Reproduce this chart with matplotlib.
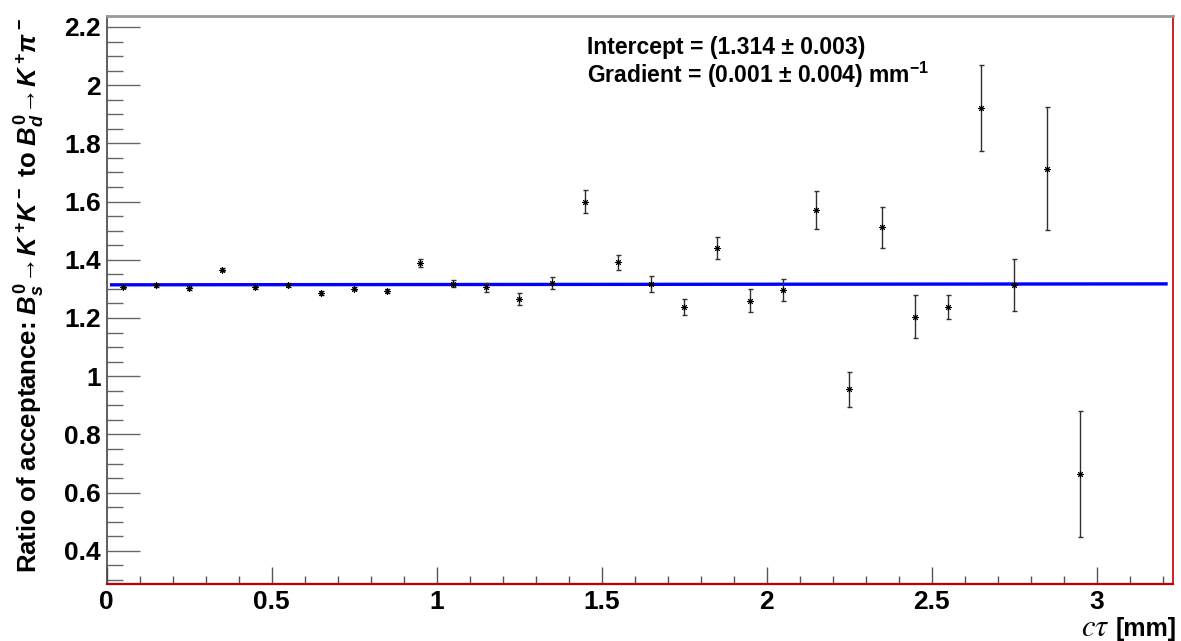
import numpy as np
import matplotlib
matplotlib.use("Agg")
import matplotlib.pyplot as plt
from matplotlib.ticker import MultipleLocator, FuncFormatter

plt.rcParams["font.family"] = ["Liberation Sans", "DejaVu Sans"]
plt.rcParams["mathtext.fontset"] = "custom"
plt.rcParams["mathtext.rm"] = "Liberation Sans:bold"
plt.rcParams["mathtext.it"] = "Liberation Sans:bold:italic"
plt.rcParams["mathtext.bf"] = "Liberation Sans:bold"

# Bin centres of proper decay length (mm) and acceptance ratio per bin
ctau = [0.05, 0.15, 0.25, 0.35, 0.45, 0.55, 0.65, 0.75, 0.85, 0.95,
        1.05, 1.15, 1.25, 1.35, 1.45, 1.55, 1.65, 1.75, 1.85, 1.95,
        2.05, 2.15, 2.25, 2.35, 2.45, 2.55, 2.65, 2.75, 2.85, 2.95]
ratio = [1.307, 1.312, 1.302, 1.366, 1.306, 1.313, 1.286, 1.301, 1.292, 1.388,
         1.318, 1.305, 1.266, 1.319, 1.600, 1.391, 1.317, 1.239, 1.440, 1.260,
         1.297, 1.571, 0.955, 1.511, 1.205, 1.237, 1.922, 1.313, 1.713, 0.664]
ratio_err = [0.005, 0.004, 0.005, 0.006, 0.005, 0.006, 0.006, 0.006, 0.007, 0.014,
             0.013, 0.015, 0.020, 0.021, 0.040, 0.026, 0.027, 0.027, 0.037, 0.041,
             0.037, 0.065, 0.060, 0.069, 0.073, 0.041, 0.147, 0.090, 0.212, 0.217]

# Linear fit result
intercept, intercept_err = 1.314, 0.003
gradient, gradient_err = 0.001, 0.004
fit_range = (0.015, 3.21)

fig = plt.figure(figsize=(11.81, 6.41), dpi=100)
ax = fig.add_axes([0.0903, 0.0889, 0.9029, 0.8854])

ax.errorbar(ctau, ratio, yerr=ratio_err, fmt="none", ecolor="#303030",
            elinewidth=1.0, capsize=1.8, capthick=1.0, zorder=3)
ax.plot(ctau, ratio, linestyle="none", marker=(8, 2, 0), markersize=4.5,
        color="black", markeredgewidth=0.7, zorder=4)

xf = np.linspace(fit_range[0], fit_range[1], 200)
ax.plot(xf, intercept + gradient * xf, color="#0000ff", lw=2.4, zorder=2)

ax.set_xlim(0, 3.231)
ax.set_ylim(0.286, 2.236)

ax.xaxis.set_major_locator(MultipleLocator(0.5))
ax.xaxis.set_minor_locator(MultipleLocator(0.1))
ax.yaxis.set_major_locator(MultipleLocator(0.2))
ax.yaxis.set_minor_locator(MultipleLocator(0.05))
fmt = FuncFormatter(lambda v, p: "%g" % round(v, 3))
ax.xaxis.set_major_formatter(fmt)
ax.yaxis.set_major_formatter(fmt)

ax.tick_params(axis="x", which="major", direction="in", length=12.2, width=1.0,
               color="#555555", pad=4, labelsize=19)
ax.tick_params(axis="x", which="minor", direction="in", length=6.0, width=1.0,
               color="#555555")
ax.tick_params(axis="y", which="major", direction="in", length=23.8, width=1.0,
               color="#666666", pad=4, labelsize=19)
ax.tick_params(axis="y", which="minor", direction="in", length=11.5, width=1.0,
               color="#666666")
for lab in ax.get_xticklabels() + ax.get_yticklabels():
    lab.set_fontweight("bold")

ax.spines["left"].set_color("#444444")
ax.spines["left"].set_linewidth(1.2)
ax.spines["top"].set_color("#999999")
ax.spines["top"].set_linewidth(2.0)
ax.spines["right"].set_color("#d02020")
ax.spines["right"].set_linewidth(1.4)
ax.spines["bottom"].set_color("#c00000")
ax.spines["bottom"].set_linewidth(1.6)

fig.text(30 / 1181, 1 - 18 / 641,
         r"Ratio of acceptance: $B^0_s\!\rightarrow\!K^+\!K^-$ to $B^0_d\!\rightarrow\!K^+\!\pi^-$",
         rotation=90, ha="center", va="top", fontsize=18.5, fontweight="bold")

# x-axis title: serif italic symbol followed by the bold unit
unit = fig.text(1177 / 1181, 1 - 636 / 641, "[mm]", ha="right", va="baseline",
                fontsize=18, fontweight="bold")
renderer = fig.canvas.get_renderer()
unit_left = unit.get_window_extent(renderer).x0
fig.text((unit_left - 6) / 1181, 1 - 636 / 641, r"$c\tau$", ha="right",
         va="baseline", fontsize=22, math_fontfamily="stix")

fig.text(587 / 1181, 1 - 54 / 641,
         "Intercept = (%.3f \u00b1 %.3f)" % (intercept, intercept_err),
         ha="left", va="baseline", fontsize=16.5, fontweight="bold")
fig.text(587 / 1181, 1 - 83 / 641,
         r"Gradient = (%.3f $\pm$ %.3f) mm$^{-1}$" % (gradient, gradient_err),
         ha="left", va="baseline", fontsize=16.5, fontweight="bold")

fig.savefig("out.png", dpi=100)
